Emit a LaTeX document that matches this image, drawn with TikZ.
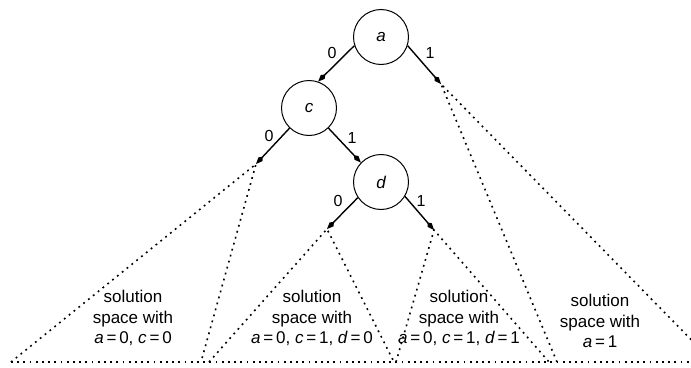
\documentclass[tikz,border=0pt]{standalone}
\usepackage{fontspec}
\setmainfont{Liberation Sans}
\usetikzlibrary{arrows.meta}
\begin{document}
\begin{tikzpicture}[x=1pt,y=-1pt,
  var/.style={circle,draw,line width=1pt,minimum size=55pt,inner sep=0pt,
    font=\fontsize{17}{20}\selectfont\itshape},
  branch/.style={line width=1.4pt,-{Kite[length=10pt,width=5.5pt,inset=3.5pt]}},
  bit/.style={font=\fontsize{16}{18}\selectfont,inner sep=0pt},
  space/.style={dash pattern=on 1.8pt off 4.4pt,line width=1.6pt},
  spacetext/.style={align=center,font=\fontsize{17}{20.5}\selectfont,inner sep=0pt}]
\useasboundingbox (0,0) rectangle (691,367);
\clip (0,0) rectangle (691,367);

% variables
\node[var] (a) at (381,37) {a};
\node[var] (c) at (309,108) {c};
\node[var] (d) at (381,182) {d};

% ends of the open branches
\coordinate (t1) at (441,84);
\coordinate (t2) at (256,164);
\coordinate (t3) at (327,229);
\coordinate (t4) at (434,230);

% base corners of the sub-spaces
\coordinate (b1) at (11,362);
\coordinate (b2) at (201,362);
\coordinate (b3) at (209,362);
\coordinate (b4) at (394,362);
\coordinate (b5) at (396,362);
\coordinate (b6) at (549,362);
\coordinate (b7) at (557,362);
\coordinate (b8) at (713,362);
\coordinate (bend) at (691,362);

% branches
\draw[branch] (a.198) -- (c.71);
\draw[branch] (a.342) -- (t1);
\draw[branch] (c.226) -- (t2);
\draw[branch] (c.314) -- (d.136);
\draw[branch] (d.214) -- (t3);
\draw[branch] (d.329) -- (t4);

% branch values
\node[bit] (l1) at (332,53) {0};
\node[bit] (l2) at (430,53) {1};
\node[bit] (l3) at (269,136) {0};
\node[bit] (l4) at (352,138) {1};
\node[bit] (l5) at (338,201) {0};
\node[bit] (l6) at (421,201) {1};

% sub-spaces
\draw[space] (b1) -- (t2) -- (b2);
\draw[space] (b3) -- (t3) -- (b4);
\draw[space] (b5) -- (t4) -- (b6);
\draw[space] (b7) -- (t1) -- (b8);
\draw[space] (b1) -- (bend);

% sub-space captions
\node[spacetext] (s1) at (133,318) {solution\\space with\\\textit{a}\,=\,0, \textit{c}\,=\,0};
\node[spacetext] (s2) at (312,318) {solution\\space with\\\textit{a}\,=\,0, \textit{c}\,=\,1, \textit{d}\,=\,0};
\node[spacetext] (s3) at (459,318) {solution\\space with\\\textit{a}\,=\,0, \textit{c}\,=\,1, \textit{d}\,=\,1};
\node[spacetext] (s4) at (600,321) {solution\\space with\\\textit{a}\,=\,1};
\end{tikzpicture}
\end{document}
